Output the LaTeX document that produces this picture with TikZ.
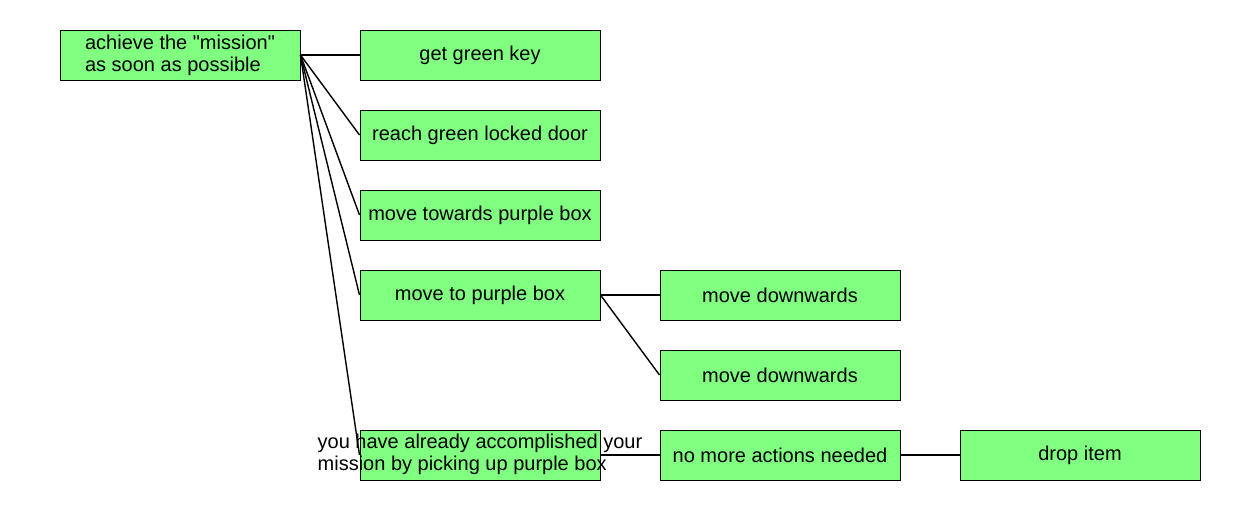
\documentclass[tikz,border=0pt]{standalone}
\usepackage{fontspec}
\setmainfont{Liberation Sans}[Ligatures=TeXOff]
\usepackage{tikz}
\usetikzlibrary{positioning}
\definecolor{goalgreen}{HTML}{80FF80}

\begin{document}
\begin{tikzpicture}[
    x=0.5pt, y=-0.5pt,
    goal/.style={
        font=\fontsize{10}{11}\selectfont,
        draw,
        line width=0.5pt,
        fill=goalgreen,
        minimum width=120pt,
        minimum height=25pt,
        inner sep=0pt,
        align=left
    },
    link/.style={
        line width=0.7pt,
        color=black
    }
]
\useasboundingbox (0,0) rectangle (1260,510);

% Top goal (left)
\node[goal] (mission) at (180, 55) {achieve the "mission"\\as soon as possible};

% Sub-goals
\node[goal] (key) at (480, 55) {get green key};
\node[goal] (door) at (480, 135) {reach green locked door};
\node[goal] (towards) at (480, 215) {move towards purple box};
\node[goal] (moveto) at (480, 295) {move to purple box};
\node[goal] (done) at (480, 455) {\makebox[0pt]{\begin{tabular}{@{}l@{}}you have already accomplished your\\mission by picking up purple box\end{tabular}}};

% Actions
\node[goal] (down1) at (780, 295) {move downwards};
\node[goal] (down2) at (780, 375) {move downwards};
\node[goal] (nomore) at (780, 455) {no more actions needed};
\node[goal] (drop) at (1080, 455) {drop item};

% Links
\foreach \c in {key, door, towards, moveto, done}
    \draw[link] (mission.east) -- (\c.west);
\draw[link] (moveto.east) -- (down1.west);
\draw[link] (moveto.east) -- (down2.west);
\draw[link] (done.east) -- (nomore.west);
\draw[link] (nomore.east) -- (drop.west);

\end{tikzpicture}
\end{document}
